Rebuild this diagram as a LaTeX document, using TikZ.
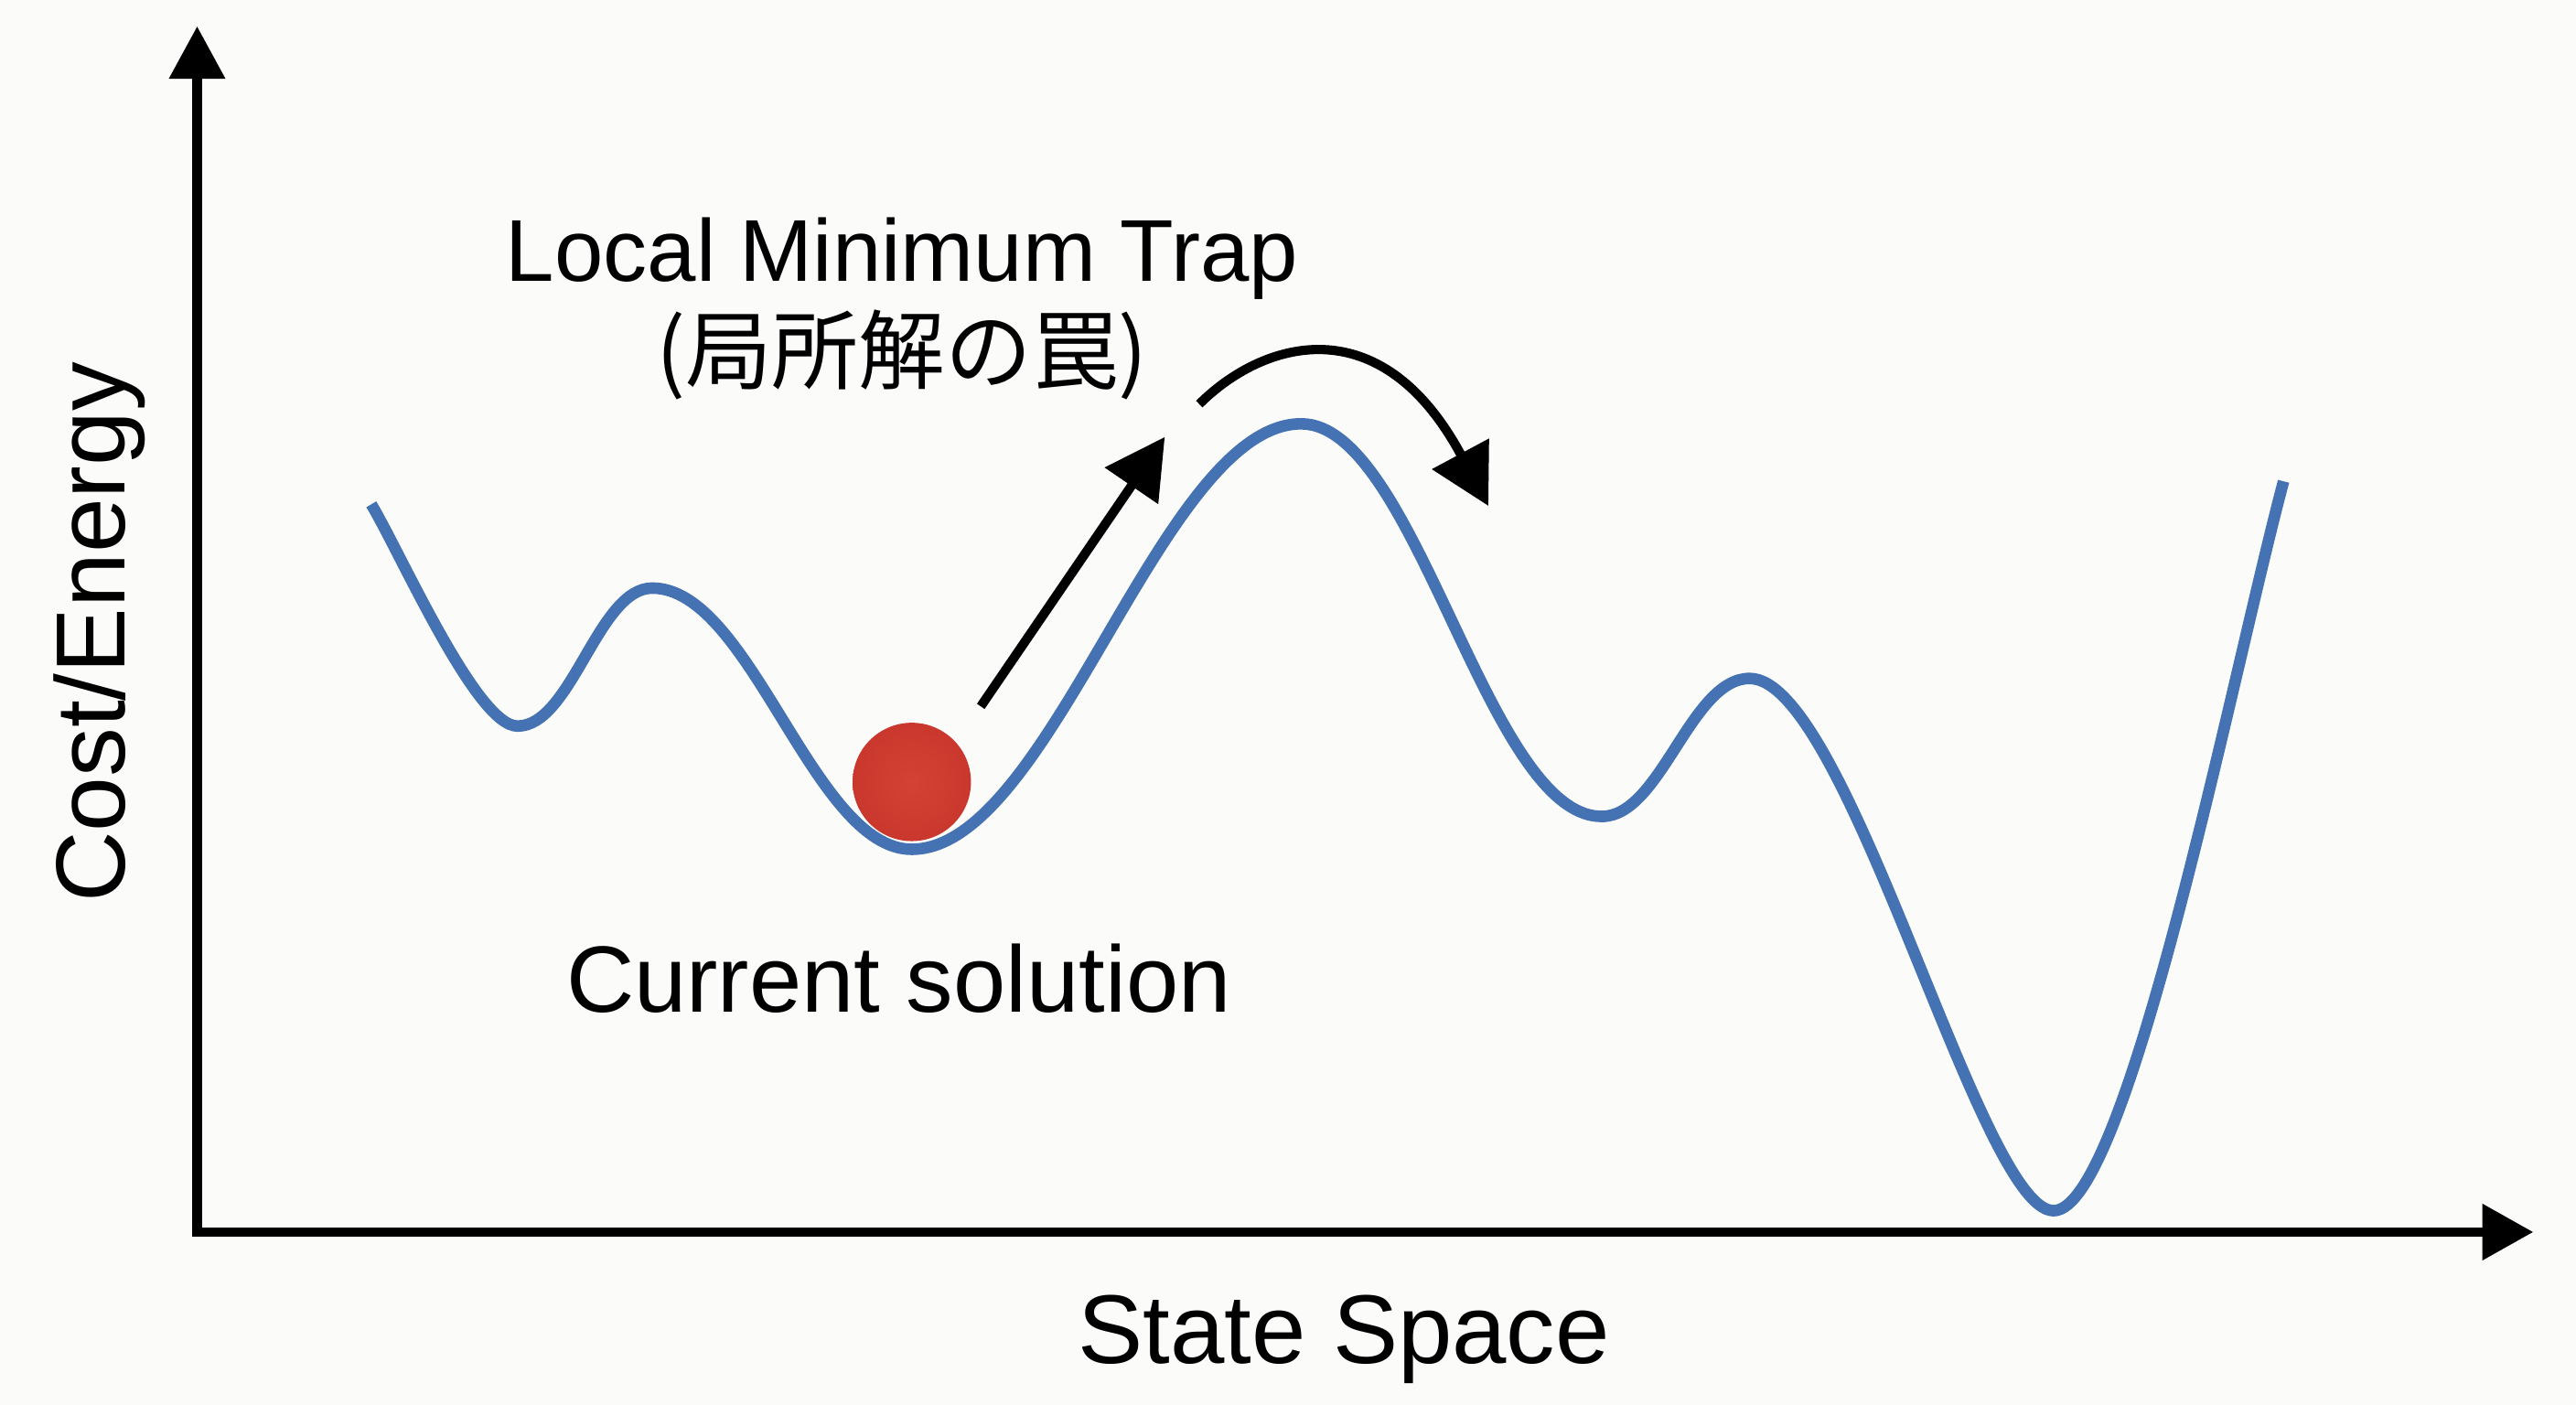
\documentclass[tikz,border=0pt]{standalone}
\usepackage{fontspec}
\setmainfont{Liberation Sans}
\newfontfamily\jpfont{Noto Sans CJK JP}
\usepackage{tikz}
\usetikzlibrary{arrows.meta}
\definecolor{kurvenblau}{RGB}{68,114,178}
\definecolor{kugelhell}{RGB}{212,66,52}
\definecolor{kugelrot}{RGB}{202,55,45}
\definecolor{hintergrund}{RGB}{251,251,250}

\begin{document}
\begin{tikzpicture}[x=.01cm, y=-.01cm, line width=1.6pt,
    achse/.style={{Triangle[length=.32cm, width=.33cm]}-{Triangle[length=.31cm, width=.33cm]}},
    pfeil/.style={-{Triangle[length=.36cm, width=.38cm]}},
    landschaft/.style={color=kurvenblau, line width=2pt},
    beschriftung/.style={inner sep=0pt, anchor=base}]
    % Hintergrund.
    \fill[hintergrund] (0,0) rectangle (1568,855);
    \useasboundingbox (0,0) rectangle (1568,855);

    % Achsen.
    \coordinate (ursprung) at (120,750);
    \coordinate (yspitze) at (120,16);
    \coordinate (xspitze) at (1542,750);
    \draw[achse] (yspitze) -- (ursprung) -- (xspitze);

    % Energielandschaft.
    \draw[landschaft] (226,307)
        .. controls (244,337) and (290,442) .. (315,442)
        .. controls (348,442) and (364,358) .. (397,358)
        .. controls (457,358) and (495,517) .. (555,517)
        .. controls (640,517) and (707,258) .. (792,258)
        .. controls (862,258) and (905,497) .. (975,497)
        .. controls (1011,497) and (1029,413) .. (1065,413)
        .. controls (1125,413) and (1205,737) .. (1250,737)
        .. controls (1295,737) and (1359,409) .. (1390,293);

    % Kugel.
    \node[circle, minimum size=.72cm, inner sep=0pt, inner color=kugelhell, outer color=kugelrot] (kugel) at (555,476) {};

    % Pfeile.
    \coordinate (aufstart) at (597,430);
    \coordinate (aufende) at (709,266);
    \draw[pfeil] (aufstart) -- (aufende);
    \coordinate (bogenstart) at (730,246);
    \coordinate (bogenende) at (906,308);
    \draw[pfeil] (bogenstart) .. controls (768,208) and (840,185) .. (bogenende);

    % Beschriftung.
    \node[beschriftung] (falle) at (549,171) {\fontsize{15.2}{18}\selectfont Local Minimum Trap};
    \node[beschriftung] (falle jp) at (549,233) {\jpfont\fontsize{15}{18}\selectfont (局所解の罠)};
    \node[beschriftung] (loesung) at (547,616) {\fontsize{16.3}{19}\selectfont Current solution};
    \node[beschriftung] (zustand) at (818,830) {\fontsize{16.9}{20}\selectfont State Space};
    \node[beschriftung, rotate=90] (kosten) at (76,385) {\fontsize{17}{20}\selectfont Cost/Energy};
\end{tikzpicture}
\end{document}
